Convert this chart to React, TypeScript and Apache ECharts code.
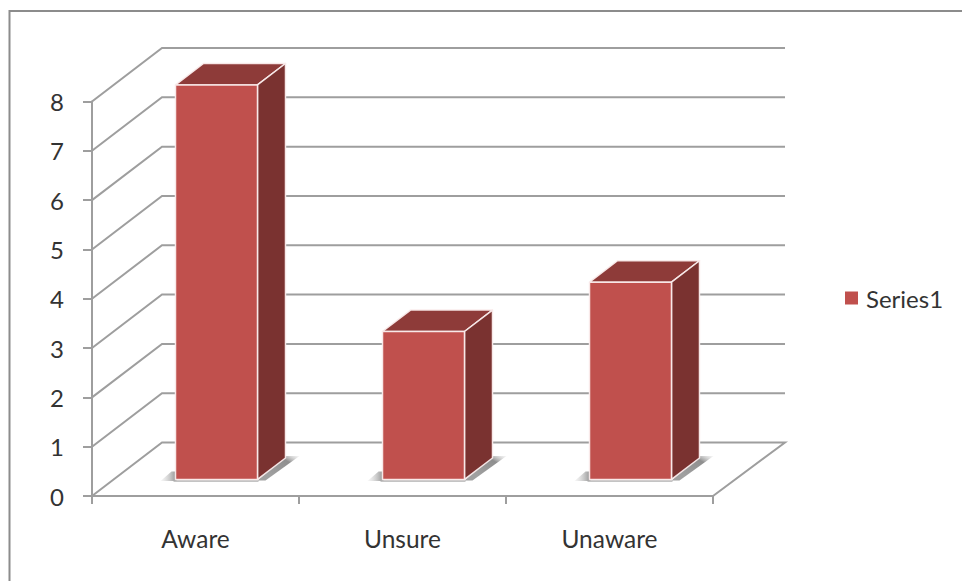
import React, { useEffect, useRef } from "react";
import * as echarts from "echarts";

const categories = ["Aware", "Unsure", "Unaware"];
const seriesName = "Series1";
const seriesValues = [8, 3, 4];
const valueTicks = [0, 1, 2, 3, 4, 5, 6, 7, 8];

const FONT = "Lato, 'Open Sans', sans-serif";
const TEXT = "#333333";
const AXIS = "#9e9e9e";
const FRONT = "#C0504D";
const TOP = "#8E3B39";
const SIDE = "#7A3230";
const EDGE = "rgba(250,236,236,0.95)";

// Oblique projection of the chart box: how far the back wall sits from the front plane.
const DEPTH_X = 70;
const DEPTH_Y = 53.5;
const BACK_OVERHANG = 2; // the back wall runs slightly past the projected corner
const BAR_FRONT = 0.3; // share of the box depth in front of a bar
const BAR_DEPTH = 0.4; // share of the box depth taken by a bar
const BAR_WIDTH = 0.396; // share of a category band taken by a bar

function renderWall(params: any, api: any) {
  const box = params.coordSys;
  const y = api.coord([0, api.value(1)])[1];
  const left = box.x;
  const right = box.x + box.width;
  const points = [
    [left, y],
    [left + DEPTH_X, y - DEPTH_Y],
    [right + DEPTH_X + BACK_OVERHANG, y - DEPTH_Y],
  ];
  // The lowest line also closes the floor back to the front edge.
  if (api.value(1) === 0) points.push([right, y]);
  return {
    type: "polyline",
    shape: { points },
    style: { fill: "none", stroke: AXIS, lineWidth: 2 },
  };
}

function renderBar(_params: any, api: any) {
  const band = api.size([1, 0])[0];
  const [cx, topY] = api.coord([api.value(0), api.value(1)]);
  const baseY = api.coord([api.value(0), 0])[1];
  const lift = DEPTH_Y * 0.31;
  const shift = DEPTH_X * BAR_FRONT;
  const w = band * BAR_WIDTH;
  const dx = DEPTH_X * BAR_DEPTH;
  const dy = DEPTH_Y * BAR_DEPTH;
  const x0 = cx + shift - w / 2;
  const x1 = x0 + w;
  const y0 = topY - lift;
  const y1 = baseY - lift;
  const faceEdge = { stroke: EDGE, lineWidth: 1.5, lineJoin: "round" };
  return {
    type: "group",
    children: [
      // Soft floor shadows either side of the bar.
      {
        type: "polygon",
        shape: { points: [[x1, y1 + 1], [x1 + dx, y1 - dy - 2], [x1 + dx + 14, y1 - dy - 2], [x1 + 8, y1 + 1]] },
        style: {
          fill: new echarts.graphic.LinearGradient(0, 1, 1, 0, [
            { offset: 0.25, color: "#a0a0a0" },
            { offset: 0.75, color: "#8f8f8f" },
            { offset: 1, color: "rgba(210,210,210,0.2)" },
          ]),
        },
      },
      {
        type: "polygon",
        shape: { points: [[x0 - 15, y1 + 1.5], [x0 + 1, y1 + 1.5], [x0 + 1, y1 - 8], [x0 - 4, y1 - 8]] },
        style: {
          fill: new echarts.graphic.LinearGradient(0, 0, 1, 0, [
            { offset: 0, color: "rgba(215,215,215,0.2)" },
            { offset: 1, color: "#8f8f8f" },
          ]),
        },
      },
      {
        type: "polyline",
        shape: { points: [[x0 - 2, y1 + 1.5], [x1 + 1, y1 + 1.5]] },
        style: { fill: "none", stroke: "#b0b0b0", lineWidth: 1.5 },
      },
      {
        type: "polygon",
        shape: { points: [[x0, y0], [x1, y0], [x1 + dx, y0 - dy], [x0 + dx, y0 - dy]] },
        style: { fill: TOP, ...faceEdge },
      },
      {
        type: "polygon",
        shape: { points: [[x1, y0], [x1 + dx, y0 - dy], [x1 + dx, y1 - dy], [x1, y1]] },
        style: { fill: SIDE, ...faceEdge },
      },
      {
        type: "rect",
        shape: { x: x0, y: y0, width: w, height: y1 - y0 },
        style: { fill: FRONT, ...faceEdge },
      },
    ],
  };
}

export default function App() {
  const ref = useRef<HTMLDivElement>(null);

  useEffect(() => {
    const chart = echarts.init(ref.current!, null, { renderer: "svg" });
    chart.setOption({
      animation: false,
      backgroundColor: "#ffffff",
      textStyle: { fontFamily: FONT },
      grid: { left: 92, top: 101.5, width: 621, height: 394.5 },
      graphic: [
        {
          type: "polyline",
          silent: true,
          shape: { points: [[9.5, 581], [9.5, 11], [962, 11]] },
          style: { fill: "none", stroke: "#8c8c8c", lineWidth: 2 },
        },
      ],
      legend: {
        data: [seriesName],
        left: 845,
        top: 286,
        padding: 0,
        icon: "rect",
        itemWidth: 13,
        itemHeight: 13,
        textStyle: { fontFamily: FONT, fontSize: 24, color: TEXT, padding: [0, 0, 0, 3] },
      },
      xAxis: {
        type: "category",
        data: categories,
        axisLine: { lineStyle: { color: AXIS, width: 2 } },
        axisTick: { show: true, alignWithLabel: false, length: 8, lineStyle: { color: AXIS, width: 2 } },
        axisLabel: { fontFamily: FONT, fontSize: 24.5, color: TEXT, margin: 30 },
      },
      yAxis: {
        type: "value",
        min: 0,
        max: 8,
        interval: 1,
        splitLine: { show: false },
        axisLine: { show: true, lineStyle: { color: AXIS, width: 2 } },
        axisTick: { show: true, length: 9, lineStyle: { color: AXIS, width: 2 } },
        axisLabel: { fontFamily: FONT, fontSize: 24, color: TEXT, margin: 28 },
      },
      series: [
        {
          type: "custom",
          renderItem: renderWall,
          silent: true,
          clip: false,
          z: 1,
          encode: { x: 0, y: 1 },
          data: valueTicks.map((v) => [0, v]),
        },
        {
          type: "custom",
          name: seriesName,
          renderItem: renderBar,
          clip: false,
          z: 2,
          itemStyle: { color: FRONT },
          encode: { x: 0, y: 1 },
          data: seriesValues.map((v, i) => [i, v]),
        },
      ],
    });
    return () => chart.dispose();
  }, []);

  return <div ref={ref} style={{ position: "fixed", left: 0, top: 0, width: 962, height: 581 }} />;
}
